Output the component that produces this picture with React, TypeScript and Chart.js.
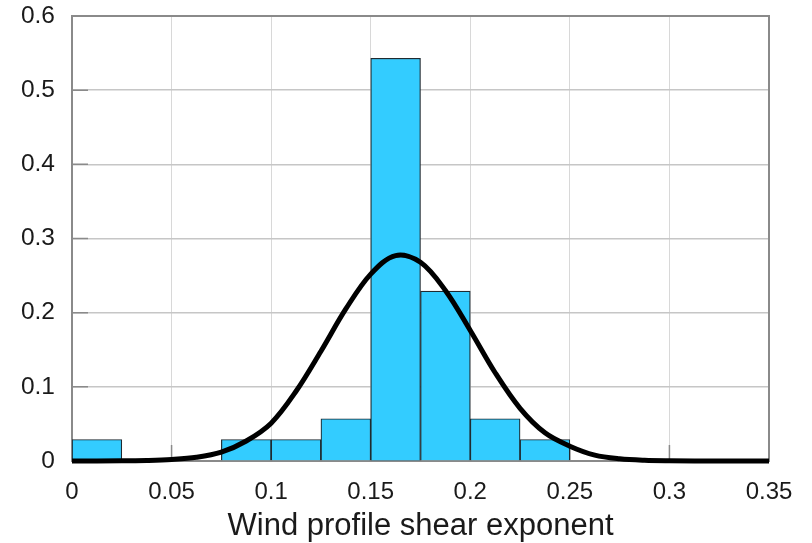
import React, { useEffect, useRef } from "react";
import { Chart, registerables } from "chart.js";

Chart.register(...registerables);

// Histogram bins (centres) and relative frequencies
const binCenters = [0.0125, 0.0875, 0.1125, 0.1375, 0.1625, 0.1875, 0.2125, 0.2375];
const binFreqs = [0.029, 0.029, 0.029, 0.057, 0.543, 0.229, 0.057, 0.029];

// Fitted distribution curve
const curveX = [0, 0.025, 0.0375, 0.05, 0.0625, 0.075, 0.0875, 0.1, 0.1125, 0.125, 0.1375, 0.15, 0.1625, 0.175, 0.1875, 0.2, 0.2125, 0.225, 0.2375, 0.25, 0.2625, 0.275, 0.2875, 0.3, 0.325, 0.35];
const curveY = [0, 0.0002, 0.0007, 0.002, 0.005, 0.012, 0.027, 0.051, 0.094, 0.148, 0.205, 0.252, 0.277, 0.268, 0.23, 0.176, 0.119, 0.071, 0.038, 0.02, 0.008, 0.003, 0.001, 0.0004, 0, 0];

const xTickLabels = ["0", "0.05", "0.1", "0.15", "0.2", "0.25", "0.3", "0.35"];
const yTickLabels = ["0", "0.1", "0.2", "0.3", "0.4", "0.5", "0.6"];
const xTitle = "Wind profile shear exponent";

const FONT = "'Liberation Sans', Arial, Helvetica, sans-serif";

const boxPlugin = {
  id: "boxPlugin",
  beforeDatasetsDraw(chart: any) {
    const { ctx, chartArea, scales } = chart;
    ctx.save();
    ctx.strokeStyle = "#8a8a8a";
    ctx.lineWidth = 1.5;
    ctx.beginPath();
    scales.x.ticks.forEach((t: any) => {
      const px = scales.x.getPixelForValue(t.value);
      ctx.moveTo(px, chartArea.bottom);
      ctx.lineTo(px, chartArea.bottom - 16);
    });
    scales.y.ticks.forEach((t: any) => {
      const py = scales.y.getPixelForValue(t.value);
      ctx.moveTo(chartArea.left, py);
      ctx.lineTo(chartArea.left + 16, py);
    });
    ctx.stroke();
    ctx.lineWidth = 2;
    ctx.strokeRect(chartArea.left, chartArea.top, chartArea.right - chartArea.left, chartArea.bottom - chartArea.top);
    ctx.restore();
  },
};

export default function App() {
  const ref = useRef<HTMLCanvasElement | null>(null);
  useEffect(() => {
    document.body.style.margin = "0";
    const canvas = ref.current!;
    const chart = new Chart(canvas, {
      type: "bar",
      data: {
        datasets: [
          {
            type: "line",
            data: curveX.map((x, i) => ({ x, y: curveY[i] })),
            borderColor: "#000",
            borderWidth: 5,
            pointRadius: 0,
            tension: 0.35,
            clip: false,
            order: 0,
          } as any,
          {
            type: "bar",
            data: binCenters.map((x, i) => ({ x, y: binFreqs[i] })),
            backgroundColor: "#33ccff",
            borderColor: "#1f2a30",
            borderWidth: 1.2,
            barPercentage: 1,
            categoryPercentage: 1,
            order: 1,
          } as any,
        ],
      },
      options: {
        responsive: false,
        animation: false,
        layout: { padding: { left: 0, right: 43, top: 16, bottom: 0 } },
        plugins: { legend: { display: false }, tooltip: { enabled: false } },
        scales: {
          x: {
            type: "linear",
            offset: false,
            min: 0,
            max: 0.35,
            ticks: {
              stepSize: 0.05,
              padding: 17,
              color: "#1a1a1a",
              font: { family: FONT, size: 24 },
              maxRotation: 0,
              autoSkip: false,
              callback: (_v: any, i: number) => xTickLabels[i],
            },
            grid: { color: "#d8d8d8", lineWidth: 1, drawTicks: false, offset: false },
            border: { display: false },
            title: {
              display: true,
              text: xTitle,
              color: "#1a1a1a",
              font: { family: FONT, size: 31, lineHeight: 1 },
              padding: { top: 0, bottom: 1 },
            },
            afterFit: (s: any) => {
              s.height = 82;
              s.paddingLeft = 0;
              s.paddingRight = 0;
            },
          },
          y: {
            min: 0,
            max: 0.6,
            ticks: {
              stepSize: 0.1,
              padding: 17,
              color: "#1a1a1a",
              font: { family: FONT, size: 24.5 },
              callback: (_v: any, i: number) => yTickLabels[i],
            },
            grid: { color: "#c6c6c6", lineWidth: 1.5, drawTicks: false },
            border: { display: false },
            afterFit: (s: any) => {
              s.width = 72;
              s.paddingTop = 0;
              s.paddingBottom = 0;
            },
          },
        },
      },
      plugins: [boxPlugin],
    });
    return () => chart.destroy();
  }, []);
  return (
    <div style={{ position: "absolute", left: 0, top: 0, width: 812, height: 543, background: "#fff" }}>
      <canvas ref={ref} width={812} height={543} />
    </div>
  );
}
